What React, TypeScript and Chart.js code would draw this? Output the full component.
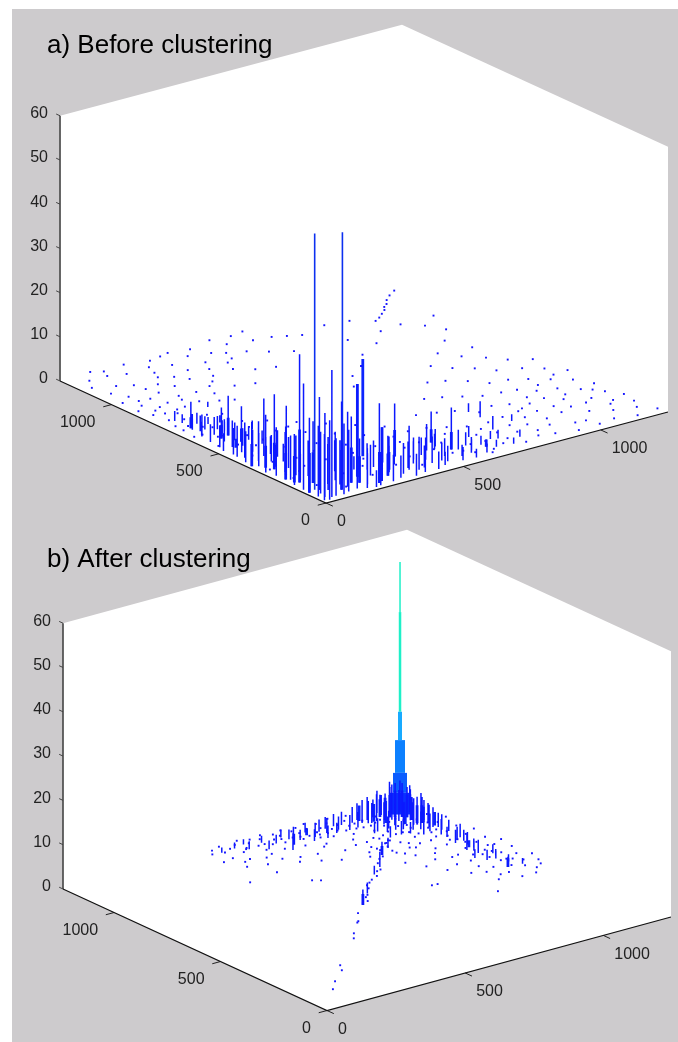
import React, { useEffect, useRef } from "react";
import { Chart, registerables } from "chart.js";

Chart.register(...registerables);

const zTicks = [0, 10, 20, 30, 40, 50, 60];
const floorTicks = [0, 500, 1000];
const xMax = 1245;
const yMax = 1240;
const titles = ["a) Before clustering", "b) After clustering"];

const beforeFloor = [
  [106,1235],[60,1180],[30,1130],[140,1215],[180,1160],[95,1100],[45,1060],[220,1225],[250,1120],[140,1075],[70,1010],[25,980],
  [300,1205],[330,1140],[200,1040],[110,960],[55,930],[20,900],[380,1225],[410,1170],[275,1060],[160,985],[90,890],[35,850],
  [450,1210],[480,1150],[340,1080],[230,1000],[130,905],[70,840],[540,1235],[560,1180],[420,1100],[300,1020],[190,930],[100,820],
  [45,790],[610,1225],[640,1160],[500,1080],[370,1000],[250,925],[150,850],[85,770],[660,1235],[700,1150],[570,1100],[450,1010],
  [310,940],[210,860],[120,780],[60,720],[740,1130],[620,1060],[500,970],[370,900],[260,830],[160,760],[90,690],[30,740],
  [780,1110],[680,1020],[560,950],[430,880],[300,810],[200,740],[110,670],[50,640],[125,1180],[265,1165],[345,1215],[515,1125],
  [72,965],[148,1030],[235,1085],[395,1050],[62,875],[118,845],[178,900],[285,885],[340,965],[470,1060],[28,700],[75,600],
  [1230,30],[1190,75],[1150,20],[1215,120],[1120,95],[1080,40],[1225,180],[1170,160],[1060,130],[1020,30],[1195,230],[1130,210],
  [1040,190],[970,80],[940,25],[1210,300],[1150,285],[1060,250],[990,170],[900,110],[870,45],[1180,360],[1100,330],[1020,290],
  [940,220],[850,150],[820,60],[1215,430],[1130,400],[1040,350],[960,280],[880,200],[790,120],[760,40],[1170,480],[1080,440],
  [1000,390],[910,310],[830,240],[740,150],[700,70],[1190,560],[1120,520],[1030,470],[950,400],[860,330],[770,230],[680,170],
  [650,50],[1130,600],[1050,550],[970,480],[890,410],[800,310],[700,240],[620,120],[590,60],[1090,650],[1010,600],[930,530],
  [840,440],[750,360],[650,270],[560,180],[1110,740],[1040,700],[960,640],[880,570],[790,470],[700,380],[600,300],[510,220],
  [1080,830],[1000,760],[920,690],[830,590],[740,490],[640,400],[540,310],[1145,140],[1095,190],[1005,75],[925,155],[845,95],
  [1175,262],[1088,278],[1002,222],[918,262],[805,175],[735,95],[1160,425],[1072,385],[985,325],[895,250],[720,200],[670,115],
  [60,120],[120,60],[180,150],[240,90],[300,210],[90,240],[150,330],[210,270],[270,390],[330,330],[390,270],[450,210],[510,150],
  [570,90],[630,30],[30,300],[60,420],[120,480],[180,420],[240,540],[300,480],[360,420],[420,360],[480,300],[30,540],[90,600],
  [150,560],[210,660],[270,620],[330,560],[390,500],[450,440],[510,380],[20,640],[42,205],[75,345],[128,265],[165,505],[225,345],
  [262,165],[345,115],[418,145],[535,95],[612,230],[305,265],[362,205],[468,255],[405,70],[82,515],[132,405],[196,610],[288,545],
  [1020,1075],[1045,1090],[1070,1110],[1095,1130],[1110,1150],[1130,1165],[1150,1190],[1180,1215],[1215,1238],[1110,960],
  [1180,1010],[960,1120],[880,1135],[980,1000],[1060,1010],[1140,900],[860,1000],[910,930],[820,880],[760,810],[690,760],[640,690],
];

const beforeStems = [
  [44,29,28.7],[42,177,29],[15,124,24],[93,409,13],[50,305,17],[42,239,16],[114,602,9],[83,594,7],[64,712,6],[70,676,3.6],
  [63,786,2.3],[113,539,8],[14,364,10],[30,352,7],[30,186,11],[13,94,17],[51,96,21],[28,41,19],[102,58,20],[131,67,17],
  [204,115,21],[160,87,15],[224,38,18],[332,164,8],[392,182,12],[358,71,10],[546,209,7],[535,176,4],[557,129,9.5],[573,117,4.5],
  [785,341,2],[786,288,3.6],[652,88,1.6],[754,188,3],[587,74,3.6],[780,95,1.6],[197,17,3.8],[179,73,10],[232,167,3],[262,144,6],
  [312,106,7.5],[381,54,7.5],[447,108,5],[88,455,5],[120,380,6],[62,270,9],[95,205,8],[25,220,12],[70,150,14],[135,130,11],
  [180,190,7],[250,60,9],[290,150,6],[420,130,5],[480,75,4],[495,165,6],[610,130,3],[660,180,2.5],[720,120,2],[840,210,1.5],
  [30,470,6],[48,640,5],[25,510,4],[40,430,8],[95,745,2],[120,660,3],[150,490,3],[160,700,1.6],[200,600,2],[210,820,1.2],
  [18,170,8],[35,210,10],[55,190,6],[22,260,11],[48,250,7],[70,230,9],[15,300,8],[38,330,12],[65,320,5],[90,290,7],[20,400,7],
  [55,385,9],[82,360,6],[110,340,4],[28,450,7],[60,470,5],[90,430,6],[118,410,4],[35,540,5],[65,520,6],[95,510,4],[130,480,3],
  [40,590,4],[75,570,5],[105,560,4],[140,540,3],[55,650,3],[85,630,4],[110,625,3],[60,700,2.5],[90,680,3],[130,640,2],[70,760,2],
  [100,730,2.5],[125,710,1.6],[170,25,9],[190,50,7],[215,20,7],[240,45,8],[265,25,6],[280,70,9],[300,35,5],[325,55,7],[345,20,5],
  [365,85,6],[385,30,4],[405,60,5],[430,25,4],[445,75,6],[465,40,3],[490,60,3.5],[510,100,4],[530,40,3],[550,70,2.5],[575,35,2],
  [600,90,2.5],[625,50,2],[650,110,2],[675,70,1.6],[700,130,1.8],[730,60,1.4],[240,100,7],[300,90,6],[350,130,6],[400,105,5],
  [460,145,4],[520,160,3.5],[10,20,15],[25,15,18],[60,30,13],[15,55,16],[85,25,16],[35,70,14],[110,35,14],[70,80,12],[125,95,10],
  [100,120,9],[145,40,12],[160,130,8],
];
const beforeThickStems = [
  [319,237,22],[204,115,21],[332,164,8],[42,177,12],[102,58,9],[51,96,12],[13,94,9],[179,73,6],[30,186,6],[50,305,6],[14,364,5],
  [114,602,4],[64,712,2.5],[392,182,6],[557,129,4],[546,209,3],[70,150,7],[25,220,6],[160,87,8],[224,38,7],[312,106,4],[280,70,5],
  [38,330,5],[113,539,3],[83,594,3],[652,88,1.6],[70,510,2],
];
const beforeTallStems = [[40,104,58],[155,122,56]];

const afterFloor = [
  [502,1190],[520,1215],[540,1180],[555,1228],[570,1195],[585,1150],[600,1212],[612,1172],[625,1235],[640,1198],[648,1125],[660,1220],
  [672,1165],[685,1205],[695,1100],[705,1230],[716,1178],[728,1140],[738,1212],[748,1192],[758,1085],[768,1158],[775,1225],[786,1130],
  [796,1200],[805,1175],[815,1060],[822,1215],[832,1110],[842,1190],[850,1150],[860,1226],[868,1095],[878,1170],[888,1205],[896,1040],
  [905,1125],[915,1190],[925,1075],[932,1160],[940,1218],[950,1015],[958,1105],[968,1175],[978,1140],[988,1060],[996,1205],[1005,1098],
  [1015,1030],[1025,1185],[1035,1075],[1045,1000],[1055,1120],[1065,1048],[1075,1180],[1085,1015],[735,1168],[790,1150],[845,1130],[900,1145],
  [955,1135],[1010,1145],[1060,1150],[1095,1100],[815,1140],[870,1125],[925,1110],[980,1100],[1030,1110],[690,1150],[650,1165],[605,1165],
  [450,945],[561,963],[601,850],[621,834],[520,1050],[540,1085],[580,1030],[610,1075],[640,1040],[665,990],[690,1020],[720,960],
  [745,1010],[770,930],[795,1045],[825,985],[850,900],[875,1000],[905,940],[930,880],[955,960],[985,890],[490,1120],[530,1130],[565,1095],[640,1090],
  [1177,542],[1205,560],[1160,575],[1220,590],[1130,600],[1185,615],[1235,640],[1150,650],[1200,668],[1120,690],[1170,700],[1225,722],
  [1095,735],[1145,745],[1195,765],[1235,785],[1110,790],[1165,810],[1210,828],[1085,845],[1135,860],[1180,880],[1225,900],[1100,915],
  [1150,930],[1200,950],[1075,965],[1125,985],[1175,1005],[1220,1025],[1090,1040],[1140,1058],[1190,1075],[1065,1090],[1120,760],[1140,830],
  [1115,870],[1130,900],[1110,950],[1135,960],[1150,1020],[1120,1030],[1105,1075],[1165,640],[1130,650],[1118,720],[1155,725],[1175,770],
  [849,609],[868,607],[970,456],[1031,531],[1000,620],[1040,600],[960,680],[1010,700],[1050,650],[930,740],[985,770],[1035,755],
  [900,800],[960,830],[1015,810],[1060,760],[1060,700],[1090,560],[1060,560],[1100,510],[1150,510],[1080,620],[1040,840],[1000,880],
  [870,930],[900,960],[930,900],[960,1000],[990,940],[1020,1000],[1050,950],[880,880],[915,1000],[945,860],[975,970],[1005,920],[1030,900],[1070,900],[1060,990],[985,1015],
  [603,614],[612,625],[625,620],[640,648],[655,660],[701,722],[690,700],[720,735],[740,750],[794,795],[770,765],[810,800],[835,845],[860,870],
  [894,902],[905,925],[972,975],[950,960],[940,935],[543,559],[504,507],[495,500],[434,437],[409,405],[154,162],[110,115],[224,221],[245,256],
];

const afterStems = [
  [716,1089,3.8],[782,1141,2.3],[831,1134,3.2],[877,1139,3.4],[900,1122,2.3],[944,1118,3.4],[1010,1170,3.8],[1007,1142,5.2],[1033,1152,5.2],
  [1029,1125,4.5],[1077,1149,5],[1074,1121,6],[1099,1131,6.8],[1111,1122,7.7],[1127,1110,7.7],[1138,1101,6.8],[1135,1074,5.2],[1132,1046,5.9],
  [1143,1037,5.9],[1157,1027,4.5],[1148,992,4.5],[1160,983,3.2],[1131,904,2.3],[1139,867,3],[1112,786,3.8],[1123,747,3],[1108,686,2.3],[1121,605,2.3],
  [830,829,3.4],[942,936,2.3],[620,1170,1.8],[665,1135,2],[745,1120,2.5],[760,1165,2.2],[810,1110,2.6],[855,1105,2.8],[920,1140,3],[975,1120,3.5],[1050,1095,5],
  [1095,1060,5],[1110,1000,4],[1090,960,3],[1165,940,2.5],[1150,850,2.5],[1140,790,2],[1090,720,1.6],[1150,700,1.5],[1050,1040,3],[1000,1060,3],[1065,990,2.6],
  [540,1195,1.2],[590,1200,1.4],[630,1210,1.2],[680,1190,1.6],[710,1160,2],[750,1190,1.8],[780,1170,2.4],[830,1180,2.2],[865,1160,2.8],[895,1170,2.6],
  [925,1170,2.8],[950,1165,3],[985,1160,3.6],[1020,1130,5],[1050,1130,6],[1060,1160,4],[1090,1160,4.5],[1170,600,1.3],[1150,640,1.6],[1135,680,1.8],
  [1155,720,2],[1125,770,2.2],[1140,820,2.8],[1120,850,3],[1160,880,3],[1130,930,3.5],[1155,960,3.5],[1120,970,4],[1140,1000,5],[1160,1050,4.6],
  [1115,1040,6],[1100,1090,7],[1090,1110,8],[1130,1075,7],[1150,1100,5],[1070,1070,5],[1040,1060,4],[1070,1030,4],[1020,1040,3.5],[1090,1010,3.5],
  [1000,1000,2.5],[1040,1000,3],[985,1055,2.5],[1150,1150,7],[1170,1130,6],[1120,1160,7],[1180,1090,5],[1090,1180,5],
  [603,614,3.5],[670,680,2.5],[780,790,2],[894,902,3],
];
const afterThickStems = [
  [1099,1131,5],[1111,1122,6],[1127,1110,6],[1138,1101,5],[1077,1149,4],[1074,1121,5],[1135,1074,4],[1132,1046,4],[1143,1037,4],[1121,605,2],
  [1040,1130,4],[1010,1160,3.5],[1150,1040,3.5],[1160,1000,3],[1060,1100,5],[1100,1060,5],[603,614,2.5],[894,902,2],[820,1160,1.6],[1130,800,1.6],
];
const peakX = 1135;
const peakY = 1130;
const peakLevels = [[0, 4.9], [4.9, 9.4], [9.4, 16.8], [16.8, 23.2], [23.2, 45.7], [45.7, 57]];
const peakStyles = [
  { c: "#0a30ff", w: 22 }, { c: "#0a5cff", w: 14 }, { c: "#0c80ff", w: 10 },
  { c: "#18aaff", w: 4 }, { c: "#1ef0c8", w: 2.5 }, { c: "#1ef0c8", w: 1.5 },
];

const panels = [
  { ox: 326, oy: 503, xv: [0.2747, -0.0731], yv: [-0.2145, -0.0984], zv: 4.42 },
  { ox: 327, oy: 1010.5, xv: [0.2763, -0.0751], yv: [-0.2129, -0.098], zv: 4.43 },
];
const BLUE = "#1414ff";

type P = (typeof panels)[number];
const proj = (p: P, x: number, y: number, z = 0) => ({
  x: p.ox + x * p.xv[0] + y * p.yv[0],
  y: p.oy + x * p.xv[1] + y * p.yv[1] - z * p.zv,
});
const gap = { x: NaN, y: NaN };
const stemLine = (p: P, list: number[][]) =>
  list.flatMap(([x, y, h]) => [proj(p, x, y, 0), proj(p, x, y, h), gap]);

const lineSet = (data: any[], color: string, width: number) => ({
  data, showLine: true, borderColor: color, borderWidth: width, pointRadius: 0, spanGaps: false, fill: false, tension: 0,
});
const dots = (data: any[]) => ({
  data, showLine: false, pointStyle: "rect", pointRadius: 1.35, pointBackgroundColor: BLUE, pointBorderWidth: 0,
});

const axesFor = (p: P) => {
  const floor = [proj(p, 0, yMax), proj(p, 0, 0), proj(p, xMax, 0)];
  const ticks: any[] = [];
  floorTicks.forEach((t) => {
    ticks.push(proj(p, t, 0), proj(p, t, -32), gap);
    ticks.push(proj(p, 0, t), proj(p, -30, t), gap);
  });
  const zt: any[] = [];
  zTicks.forEach((z) => zt.push(proj(p, 0, yMax, z), proj(p, 0, yMax + 18, z), gap));
  return [
    lineSet(floor, "#111", 1.2),
    lineSet(ticks, "#222", 1),
    lineSet([proj(p, 0, yMax, 0), proj(p, 0, yMax, 60)], "#444", 1.6),
    lineSet(zt, "#444", 1),
  ];
};

const backdrop = {
  id: "backdrop",
  beforeDatasetsDraw(chart: any) {
    const { ctx, scales } = chart;
    const sx = scales.x, sy = scales.y;
    ctx.save();
    ctx.fillStyle = "#cdcbcd";
    ctx.fillRect(12, 9, 666, 1033);
    ctx.fillStyle = "#ffffff";
    panels.forEach((p) => {
      const hex = [
        proj(p, 0, 0, 0), proj(p, xMax, 0, 0), proj(p, xMax, 0, 60),
        proj(p, xMax, yMax, 60), proj(p, 0, yMax, 60), proj(p, 0, yMax, 0),
      ];
      ctx.beginPath();
      hex.forEach((c, i) => {
        const a = sx.getPixelForValue(c.x), b = sy.getPixelForValue(c.y);
        i ? ctx.lineTo(a, b) : ctx.moveTo(a, b);
      });
      ctx.closePath();
      ctx.fill();
    });
    ctx.restore();
  },
  afterDatasetsDraw(chart: any) {
    const { ctx, scales } = chart;
    const sx = scales.x, sy = scales.y;
    ctx.save();
    ctx.textBaseline = "middle";
    ctx.fillStyle = "#222";
    ctx.font = '16px "Liberation Sans"';
    panels.forEach((p) => {
      ctx.textAlign = "right";
      zTicks.forEach((z) => {
        const c = proj(p, 0, yMax, z);
        ctx.fillText(String(z), sx.getPixelForValue(c.x) - 12, sy.getPixelForValue(c.y) - 2);
      });
      floorTicks.forEach((t) => {
        const c = proj(p, 0, t);
        ctx.fillText(String(t), sx.getPixelForValue(c.x) - 16, sy.getPixelForValue(c.y) + 18);
      });
      ctx.textAlign = "left";
      floorTicks.forEach((t) => {
        const c = proj(p, t, 0);
        ctx.fillText(String(t), sx.getPixelForValue(c.x) + 11, sy.getPixelForValue(c.y) + 19);
      });
    });
    ctx.fillStyle = "#000";
    ctx.textAlign = "left";
    ctx.textBaseline = "alphabetic";
    ctx.font = '26px "Liberation Sans"';
    ctx.fillText(titles[0], 47, 53);
    ctx.fillText(titles[1], 47, 567);
    ctx.restore();
  },
};

export default function App() {
  const ref = useRef<HTMLCanvasElement>(null);
  useEffect(() => {
    if (!ref.current) return;
    const [a, b] = panels;
    const peakSets = peakLevels.map(([z0, z1], i) =>
      lineSet([proj(b, peakX, peakY, z0), proj(b, peakX, peakY, z1)], peakStyles[i].c, peakStyles[i].w),
    );
    const chart = new Chart(ref.current, {
      type: "scatter",
      data: {
        datasets: [
          ...axesFor(a),
          ...axesFor(b),
          dots(beforeFloor.map(([x, y]) => proj(a, x, y, 0.4))),
          lineSet(stemLine(a, beforeStems), "#0c18ff", 1.5),
          lineSet(stemLine(a, beforeThickStems), "#0c24ff", 2.8),
          lineSet(stemLine(a, beforeTallStems), "#0c30f0", 1.6),
          dots(afterFloor.map(([x, y]) => proj(b, x, y, 0.4))),
          lineSet(stemLine(b, afterStems), "#0c18ff", 1.5),
          lineSet(stemLine(b, afterThickStems), "#0c24ff", 2.8),
          ...peakSets,
        ] as any,
      },
      options: {
        animation: false,
        responsive: false,
        layout: { padding: 0, autoPadding: false },
        plugins: { legend: { display: false }, tooltip: { enabled: false } },
        scales: {
          x: { type: "linear", min: 0, max: 678, display: false },
          y: { type: "linear", min: 0, max: 1042, reverse: true, display: false },
        },
      },
      plugins: [backdrop],
    });
    return () => chart.destroy();
  }, []);
  return (
    <canvas
      ref={ref}
      width={678}
      height={1042}
      style={{ position: "absolute", left: 0, top: 0, display: "block", filter: "blur(0.35px)" }}
    />
  );
}
